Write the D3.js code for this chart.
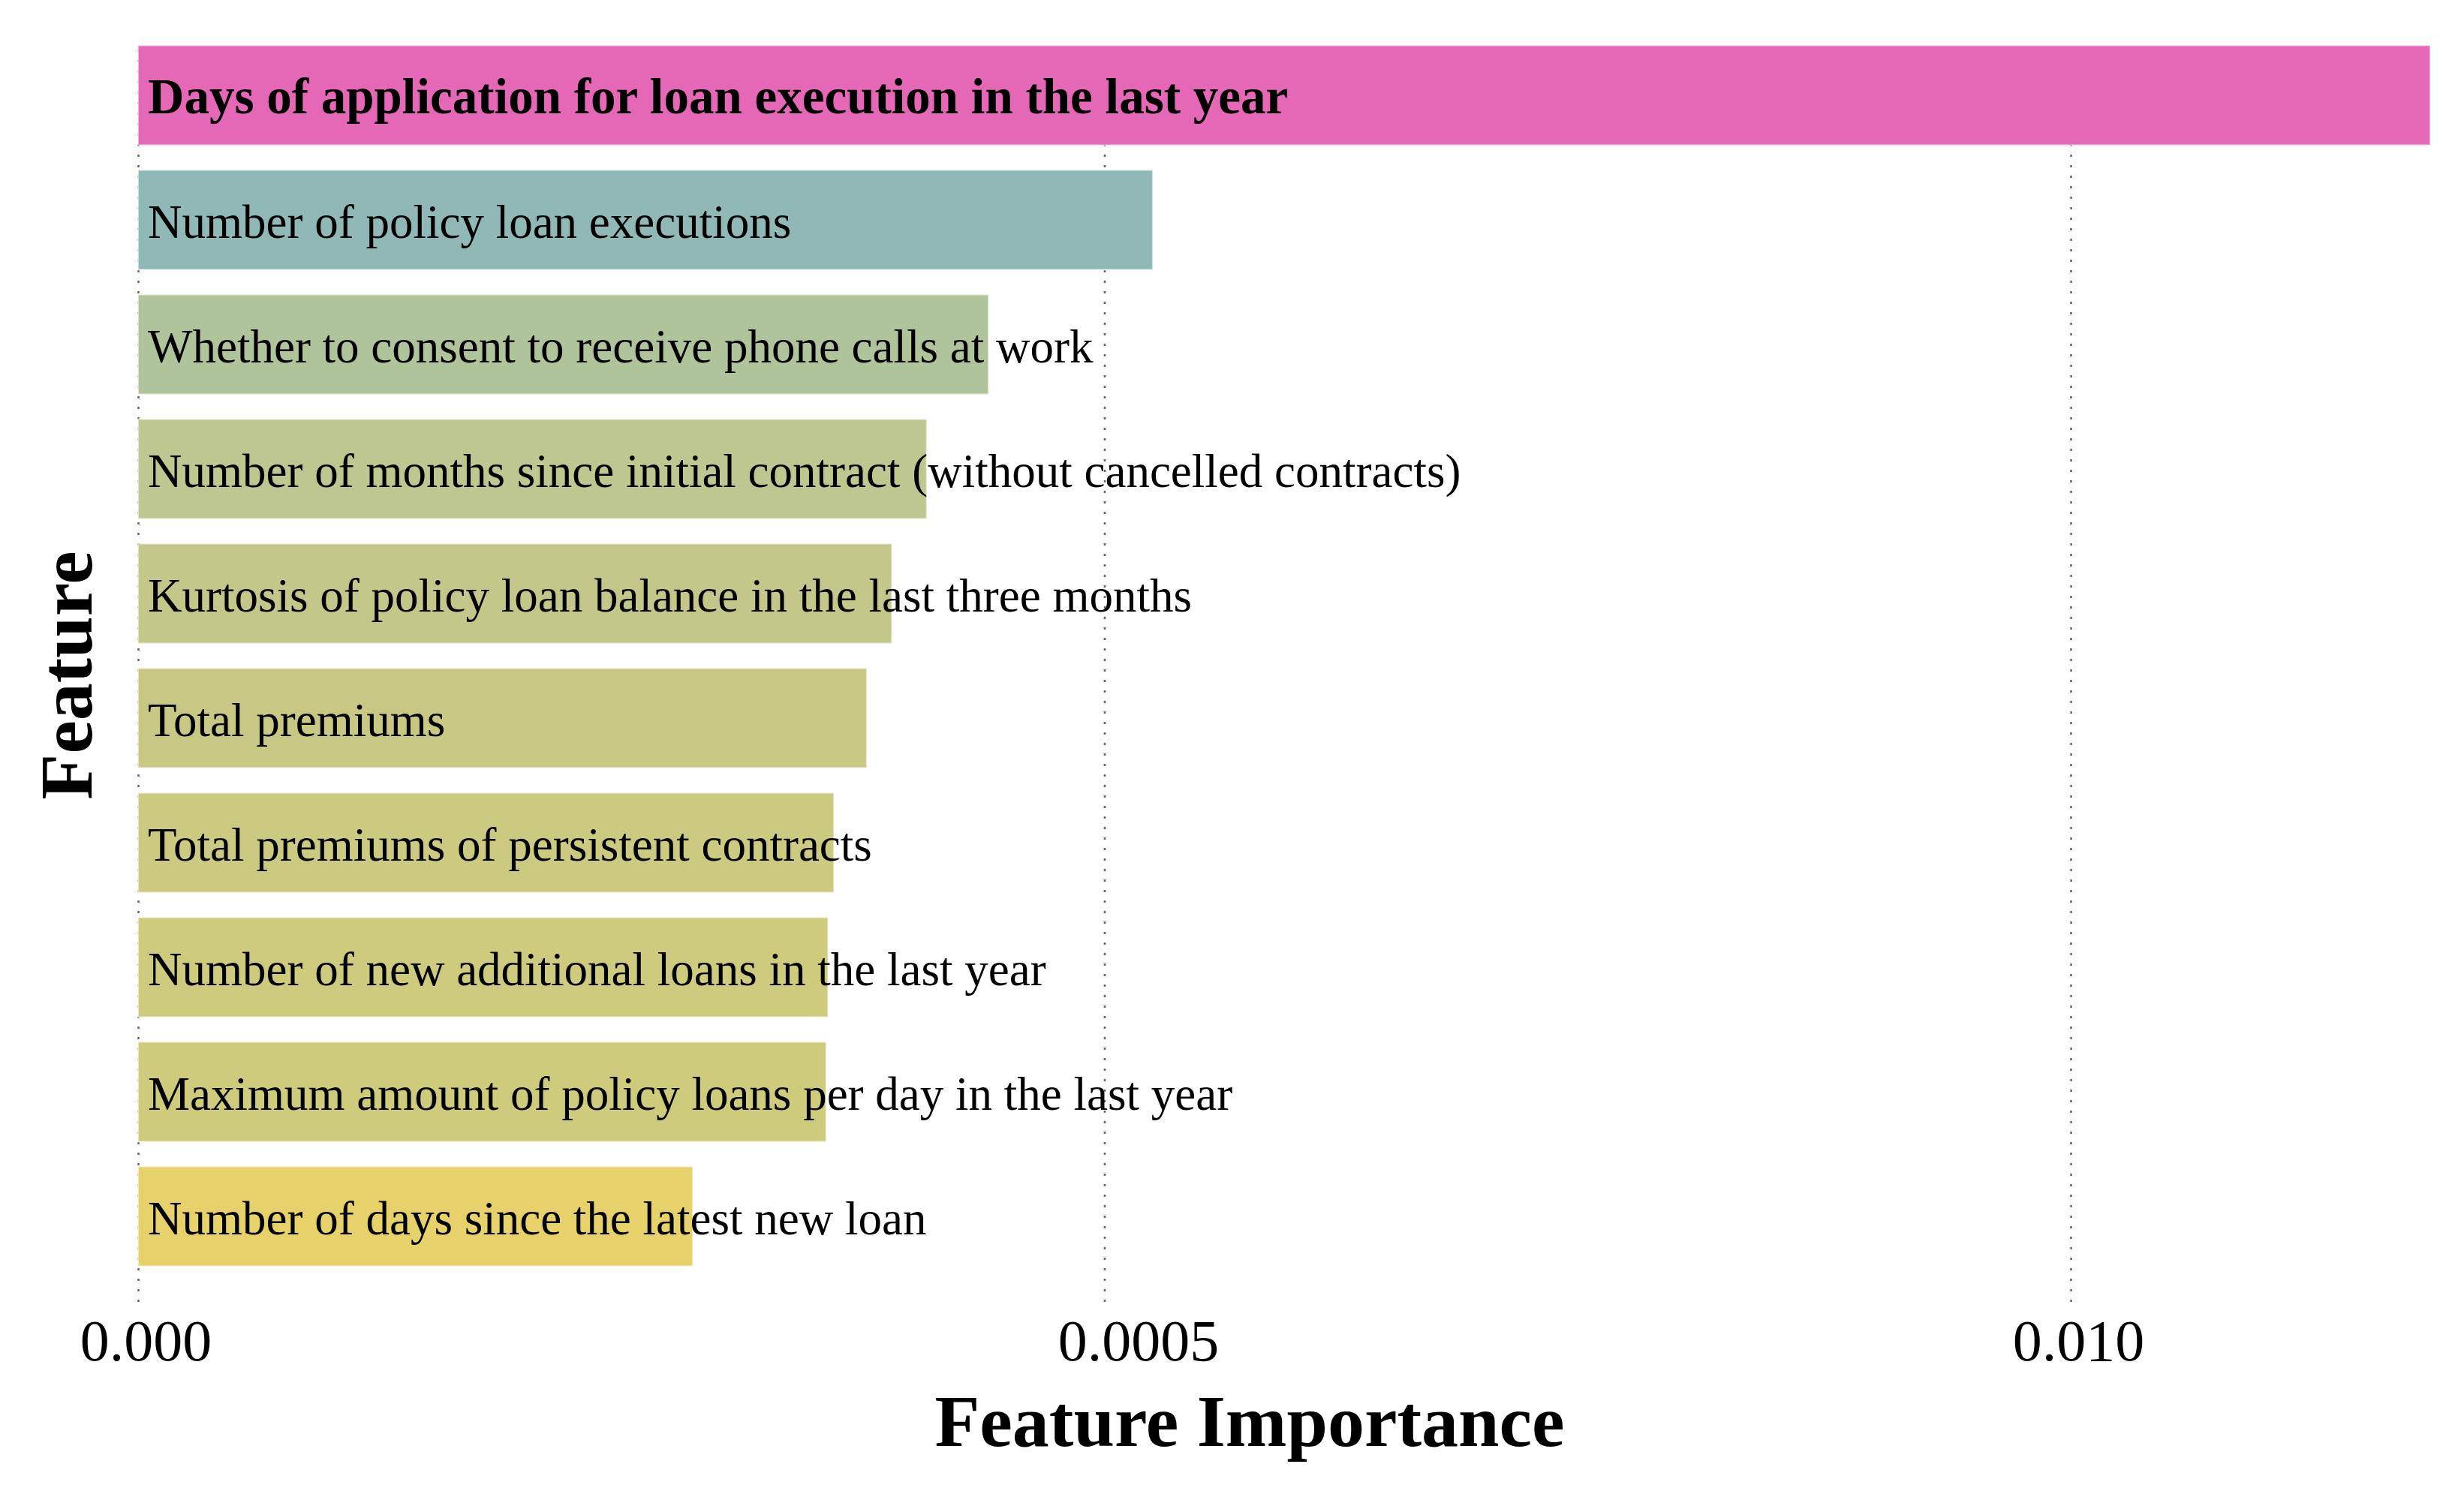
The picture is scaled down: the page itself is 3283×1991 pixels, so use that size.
<!DOCTYPE html>
<html lang="en">
<head>
    <meta charset="UTF-8">
    <title>Feature Importance</title>
    <style>
        body {
            margin: 0;
            background: #fff;
        }
        svg {
            display: block;
            font-family: "Liberation Serif", "Times New Roman", serif;
        }
    </style>
    <script src="https://d3js.org/d3.v7.min.js"></script>
</head>
<body>
    <svg id="chart"></svg>

    <script>
        const features = [
            "Days of application for loan execution in the last year",
            "Number of policy loan executions",
            "Whether to consent to receive phone calls at work",
            "Number of months since initial contract (without cancelled contracts)",
            "Kurtosis of policy loan balance in the last three months",
            "Total premiums",
            "Total premiums of persistent contracts",
            "Number of new additional loans in the last year",
            "Maximum amount of policy loans per day in the last year",
            "Number of days since the latest new loan"
        ];
        const importance = [0.01186, 0.00525, 0.0044, 0.00408, 0.0039, 0.00377, 0.0036, 0.00357, 0.00356, 0.00287];
        const barColors = ["#e468b6", "#90b8b7", "#b0c49b", "#bec78f", "#c3c789", "#c8c884", "#ccca80", "#cecb7e", "#cfcb7d", "#e7d16a"];

        const tickValues = [0, 0.005, 0.010];
        const tickLabels = ["0.000", "0.0005", "0.010"];

        const width = 3283;
        const height = 1991;

        const svg = d3.select("#chart")
            .attr("width", width)
            .attr("height", height);

        const x = d3.scaleLinear()
            .domain([0, 0.012])
            .range([184, 184 + 0.012 * 257500]);

        const y = d3.scaleBand()
            .domain(features)
            .range([44, 1704])
            .paddingInner(0.2)
            .paddingOuter(0.1);

        // dotted vertical grid
        const grid = svg.append("g")
            .attr("transform", "translate(0,1735)")
            .call(d3.axisBottom(x).tickValues(tickValues).tickSize(-1680).tickFormat(""));
        grid.select(".domain").remove();
        grid.selectAll("line")
            .attr("stroke", "#666")
            .attr("stroke-width", 2.5)
            .attr("stroke-dasharray", "3,11");

        // bars
        svg.append("g")
            .selectAll("rect")
            .data(features)
            .join("rect")
            .attr("x", x(0))
            .attr("y", d => y(d))
            .attr("width", (d, i) => x(importance[i]) - x(0))
            .attr("height", y.bandwidth())
            .attr("fill", (d, i) => barColors[i])
            .attr("stroke", "#fff")
            .attr("stroke-opacity", 0.5)
            .attr("stroke-width", 2);

        // labels inside bars
        svg.append("g")
            .selectAll("text")
            .data(features)
            .join("text")
            .attr("x", x(0) + 13)
            .attr("y", d => y(d) + y.bandwidth() / 2 + 24)
            .attr("font-size", (d, i) => i === 0 ? 67 : 63)
            .attr("font-weight", (d, i) => i === 0 ? "bold" : "normal")
            .attr("fill", "#000")
            .text(d => d);

        // x axis tick labels
        const xAxis = svg.append("g")
            .attr("transform", "translate(0,1755)")
            .call(d3.axisBottom(x).tickValues(tickValues).tickSize(0).tickFormat((d, i) => tickLabels[i]));
        xAxis.select(".domain").remove();
        xAxis.selectAll("text")
            .attr("font-family", "'Liberation Serif', serif")
            .attr("font-size", 78)
            .attr("fill", "#000")
            .attr("dx", (d, i) => i === 1 ? 45 : 10)
            .attr("dy", "0.71em");

        // axis titles
        svg.append("text")
            .attr("x", 1665)
            .attr("y", 1927)
            .attr("text-anchor", "middle")
            .attr("font-size", 98)
            .attr("font-weight", "bold")
            .text("Feature Importance");

        svg.append("text")
            .attr("transform", "translate(122,900) rotate(-90)")
            .attr("text-anchor", "middle")
            .attr("font-size", 100)
            .attr("font-weight", "bold")
            .text("Feature");
    </script>
</body>
</html>
